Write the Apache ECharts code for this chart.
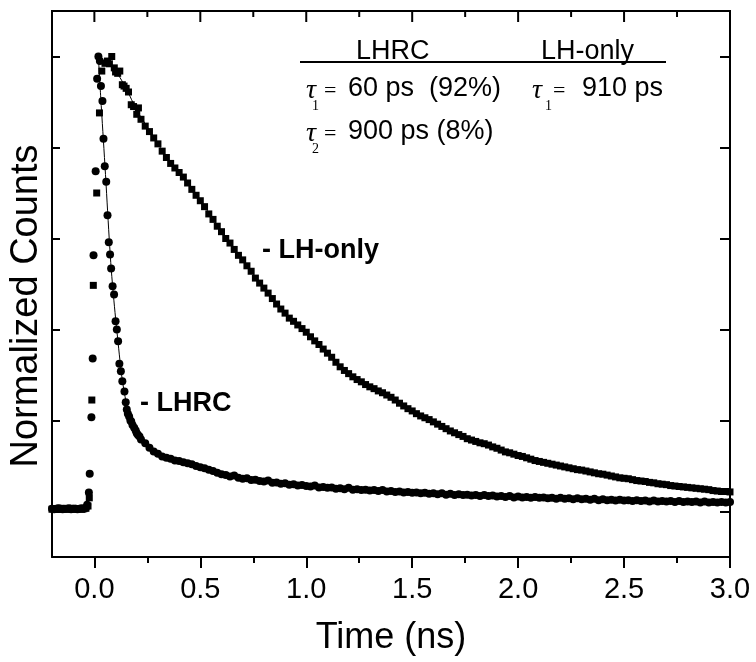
<!DOCTYPE html>
<html><head><meta charset="utf-8">
<script src="https://cdn.jsdelivr.net/npm/echarts@6/dist/echarts.min.js"></script>
<style>html,body{margin:0;padding:0;background:#fff}#c{width:756px;height:662px}</style>
</head><body><div id="c"></div>
<script>
// ---- axis ticks ----
const xTickValues = [0, 0.5, 1.0, 1.5, 2.0, 2.5, 3.0];
const xTickLabels = ['0.0', '0.5', '1.0', '1.5', '2.0', '2.5', '3.0'];
const xMinorValues = [0.25, 0.75, 1.25, 1.75, 2.25, 2.75];
const yTickValues = [0, 0.2, 0.4, 0.6, 0.8, 1.0];

// ---- LHRC (circles): baseline, rise and fast decay ----
const lhrcEarlyT = [-0.20,-0.19,-0.18,-0.17,-0.16,-0.15,-0.14,-0.13,-0.12,-0.11,-0.10,-0.09,-0.08,-0.07,-0.06,-0.05,-0.04,
  -0.034,-0.026,-0.022,-0.014,-0.008,-0.004,0.006,0.013,0.019,0.026,
  0.031,0.038,0.043,0.049,0.056,0.062,0.068,0.074,0.079,0.086,
  0.093,0.100,0.106,0.112,0.118,0.125,0.132,0.142,0.148,0.153,
  0.158,0.164,0.170,0.174,0.180,0.188,0.195,0.200,0.206,0.213,0.220];
const lhrcEarlyV = [0.006,0.005,0.006,0.007,0.006,0.005,0.006,0.006,0.007,0.005,0.006,0.006,0.005,0.006,0.007,0.006,0.008,
  0.015,0.042,0.083,0.207,0.336,0.563,0.748,0.951,1.000,0.990,
  0.935,0.902,0.819,0.759,0.725,0.651,0.592,0.565,0.534,0.495,
  0.477,0.418,0.400,0.374,0.325,0.308,0.286,0.264,0.240,0.224,
  0.215,0.209,0.200,0.198,0.190,0.184,0.178,0.172,0.168,0.165,0.158];

// ---- LH-only (squares): baseline, rise and peak ----
const lhonlyEarlyT = [-0.20,-0.19,-0.18,-0.17,-0.16,-0.15,-0.14,-0.13,-0.12,-0.11,-0.10,-0.09,-0.08,-0.07,-0.06,-0.05,-0.04,
  -0.030,-0.024,-0.012,-0.005,0.011,0.024,0.035,0.050,0.062,
  0.071,0.082,0.094,0.100,0.110,0.120,0.132,0.140,0.150,0.161,
  0.174,0.185,0.200,0.208,0.220];
const lhonlyEarlyV = [0.005,0.006,0.006,0.005,0.007,0.006,0.006,0.005,0.006,0.006,0.007,0.005,0.006,0.006,0.005,0.006,0.007,
  0.012,0.030,0.245,0.497,0.700,0.876,0.968,0.985,0.990,
  0.984,1.000,0.975,0.966,0.963,0.968,0.938,0.935,0.930,0.922,
  0.894,0.890,0.873,0.887,0.862];

// ---- shared time channels for the tails (ns) ----
const tGrid = [0.24,0.26,0.28,0.30,0.32,0.34,0.36,0.38,0.40,0.42,
  0.44,0.46,0.48,0.50,0.52,0.54,0.56,0.58,0.60,0.62,
  0.64,0.66,0.68,0.70,0.72,0.74,0.76,0.78,0.80,0.82,
  0.84,0.86,0.88,0.90,0.92,0.94,0.96,0.98,1.00,1.02,
  1.04,1.06,1.08,1.10,1.12,1.14,1.16,1.18,1.20,1.22,
  1.24,1.26,1.28,1.30,1.32,1.34,1.36,1.38,1.40,1.42,
  1.44,1.46,1.48,1.50,1.52,1.54,1.56,1.58,1.60,1.62,
  1.64,1.66,1.68,1.70,1.72,1.74,1.76,1.78,1.80,1.82,
  1.84,1.86,1.88,1.90,1.92,1.94,1.96,1.98,2.00,2.02,
  2.04,2.06,2.08,2.10,2.12,2.14,2.16,2.18,2.20,2.22,
  2.24,2.26,2.28,2.30,2.32,2.34,2.36,2.38,2.40,2.42,
  2.44,2.46,2.48,2.50,2.52,2.54,2.56,2.58,2.60,2.62,
  2.64,2.66,2.68,2.70,2.72,2.74,2.76,2.78,2.80,2.82,
  2.84,2.86,2.88,2.90,2.92,2.94,2.96,2.98,3.00];
const lhonlyTailV = [0.847,0.835,0.821,0.808,0.792,0.778,0.765,0.755,0.745,0.735,
  0.722,0.708,0.695,0.683,0.670,0.654,0.642,0.627,0.615,0.600,
  0.590,0.576,0.563,0.553,0.540,0.528,0.513,0.502,0.491,0.480,
  0.468,0.456,0.445,0.436,0.425,0.418,0.410,0.402,0.394,0.384,
  0.375,0.367,0.357,0.348,0.339,0.328,0.318,0.310,0.303,0.296,
  0.290,0.285,0.279,0.274,0.270,0.265,0.261,0.256,0.251,0.245,
  0.238,0.232,0.226,0.221,0.215,0.210,0.206,0.202,0.197,0.192,
  0.187,0.182,0.177,0.173,0.169,0.165,0.160,0.157,0.154,0.151,
  0.149,0.146,0.142,0.139,0.135,0.131,0.129,0.126,0.123,0.121,
  0.118,0.115,0.112,0.110,0.108,0.106,0.104,0.102,0.100,0.098,
  0.096,0.094,0.092,0.091,0.089,0.087,0.085,0.083,0.082,0.080,
  0.078,0.076,0.074,0.073,0.072,0.070,0.068,0.067,0.066,0.064,
  0.063,0.061,0.060,0.059,0.057,0.056,0.055,0.054,0.053,0.052,
  0.051,0.050,0.049,0.048,0.046,0.045,0.044,0.044,0.043];
const lhrcTailV = [0.150,0.140,0.132,0.127,0.121,0.118,0.116,0.112,0.111,0.108,
  0.106,0.104,0.100,0.097,0.095,0.092,0.089,0.085,0.082,0.080,
  0.077,0.079,0.074,0.072,0.073,0.069,0.070,0.067,0.066,0.068,
  0.063,0.064,0.061,0.062,0.059,0.060,0.057,0.058,0.056,0.055,
  0.057,0.053,0.054,0.052,0.053,0.050,0.051,0.049,0.052,0.048,
  0.049,0.047,0.048,0.046,0.047,0.045,0.047,0.044,0.045,0.043,
  0.044,0.042,0.043,0.041,0.042,0.040,0.041,0.039,0.040,0.038,
  0.040,0.037,0.039,0.036,0.038,0.036,0.037,0.035,0.036,0.034,
  0.036,0.034,0.035,0.033,0.034,0.032,0.034,0.031,0.033,0.031,
  0.032,0.030,0.032,0.030,0.031,0.029,0.030,0.028,0.030,0.028,
  0.029,0.027,0.029,0.027,0.028,0.026,0.028,0.025,0.027,0.025,
  0.026,0.024,0.026,0.024,0.025,0.023,0.025,0.023,0.024,0.022,
  0.024,0.022,0.023,0.022,0.023,0.021,0.023,0.021,0.022,0.021,
  0.022,0.020,0.022,0.020,0.021,0.020,0.021,0.020,0.021];

// ---- fitted curves ----
const lhrcFitT = [0.02,0.03,0.04,0.05,0.06,0.07,0.08,0.09,0.10,0.11,0.12,0.13,0.14,0.15,0.16,0.17,0.18,0.20,0.22,0.25,0.30,0.35,0.40,0.50,0.60,0.75,0.90,1.10,1.30,1.50,1.80,2.10,2.40,2.70,3.00];
const lhrcFitV = [0.990,0.910,0.835,0.760,0.680,0.600,0.530,0.475,0.425,0.380,0.335,0.295,0.265,0.240,0.218,0.203,0.192,0.175,0.162,0.146,0.127,0.117,0.109,0.096,0.083,0.070,0.062,0.053,0.047,0.042,0.036,0.031,0.027,0.023,0.021];
const lhonlyFitT = [0.10,0.15,0.20,0.25,0.30,0.35,0.40,0.45,0.50,0.55,0.60,0.65,0.70,0.75,0.80,0.85,0.90,0.95,1.00,1.05,1.10,1.15,1.20,1.25,1.30,1.40,1.50,1.60,1.70,1.80,1.90,2.00,2.10,2.20,2.30,2.40,2.50,2.60,2.70,2.80,2.90,3.00];
const lhonlyFitV = [0.970,0.930,0.882,0.845,0.808,0.772,0.742,0.715,0.683,0.650,0.616,0.584,0.554,0.522,0.492,0.463,0.436,0.414,0.394,0.372,0.348,0.323,0.303,0.288,0.275,0.252,0.223,0.197,0.174,0.155,0.139,0.124,0.111,0.100,0.091,0.082,0.074,0.066,0.059,0.053,0.048,0.043];

function zip(t, v) { return t.map((x, i) => [x, v[i]]); }
const lhrcData = zip(lhrcEarlyT, lhrcEarlyV).concat(zip(tGrid, lhrcTailV));
const lhonlyData = zip(lhonlyEarlyT, lhonlyEarlyV).concat(zip(tGrid, lhonlyTailV));

const SANS = '"Liberation Sans", Arial, sans-serif';
const SERIF = '"Liberation Serif", "Times New Roman", serif';
const axisLine = { show: true, onZero: false, lineStyle: { color: '#000', width: 2 } };
const noLine = { show: false, onZero: false };
const X = { type: 'value', min: -0.2, max: 3.0, splitLine: { show: false } };
const Y = { type: 'value', min: -0.1, max: 1.1, splitLine: { show: false } };

const chart = echarts.init(document.getElementById('c'), null, { renderer: 'canvas' });
const txt = (x, y, text, size, family, extra) => ({
  type: 'text', x: x, y: y, silent: true,
  style: Object.assign({ text: text, fontSize: size, fontFamily: family, fill: '#000', align: 'left', verticalAlign: 'middle' }, extra || {})
});
const tick = (values, len) => ({ show: true, inside: false, length: len, customValues: values, lineStyle: { color: '#000', width: 2 } });

// top frame with its inward ticks, drawn as one custom-series item through the x / y scales
const topFrameData = [[X.min, Y.max]];
function renderTopFrame(params, api) {
  const a = api.coord([X.min, Y.max]);
  const b = api.coord([X.max, Y.max]);
  const kids = [{ type: 'rect', shape: { x: a[0] - 1, y: a[1] - 1, width: b[0] - a[0] + 2, height: 2 }, style: { fill: '#000' } }];
  xTickValues.forEach(v => {
    const p = api.coord([v, Y.max]);
    kids.push({ type: 'rect', shape: { x: p[0] - 1, y: p[1], width: 2, height: 11 }, style: { fill: '#000' } });
  });
  xMinorValues.forEach(v => {
    const p = api.coord([v, Y.max]);
    kids.push({ type: 'rect', shape: { x: p[0] - 1, y: p[1], width: 2, height: 6 }, style: { fill: '#000' } });
  });
  return { type: 'group', children: kids };
}

chart.setOption({
  animation: false,
  backgroundColor: '#fff',
  grid: { left: 52, right: 26, top: 11, bottom: 105 },
  xAxis: [
    Object.assign({}, X, {
      position: 'bottom', axisLine: axisLine,
      axisTick: tick(xTickValues, 11),
      axisLabel: { show: true, customValues: xTickValues, margin: 18, color: '#000', fontSize: 29, fontFamily: SANS,
        formatter: v => xTickLabels[xTickValues.indexOf(v)] },
      name: 'Time (ns)', nameLocation: 'middle', nameGap: 63,
      nameTextStyle: { color: '#000', fontSize: 36, fontFamily: SANS }
    }),
    Object.assign({}, X, {
      position: 'bottom', axisLine: noLine,
      axisTick: tick(xMinorValues, 6), axisLabel: { show: false }
    })
  ],
  yAxis: [
    Object.assign({}, Y, {
      position: 'left', axisLine: axisLine,
      axisTick: { show: true, inside: true, length: 8, customValues: yTickValues, lineStyle: { color: '#000', width: 2 } },
      axisLabel: { show: false },
      name: 'Normalized Counts', nameLocation: 'middle', nameGap: 6,
      nameTextStyle: { color: '#000', fontSize: 38, fontFamily: SANS, padding: [0, 44, 0, 0] }
    }),
    Object.assign({}, Y, {
      position: 'right', axisLine: axisLine,
      axisTick: { show: true, inside: true, length: 10, customValues: yTickValues, lineStyle: { color: '#000', width: 2 } },
      axisLabel: { show: false }
    })
  ],
  series: [
    { name: 'LH-only', type: 'scatter', symbol: 'rect', symbolSize: 7, data: lhonlyData,
      itemStyle: { color: '#000', opacity: 1 }, silent: true, z: 2 },
    { name: 'LHRC', type: 'scatter', symbol: 'circle', symbolSize: 8, data: lhrcData,
      itemStyle: { color: '#000', opacity: 1 }, silent: true, z: 2 },
    { name: 'LHRC fit', type: 'line', data: zip(lhrcFitT, lhrcFitV), showSymbol: false, smooth: 0.3,
      lineStyle: { color: '#000', width: 1 }, silent: true, z: 3 },
    { name: 'LH-only fit', type: 'line', data: zip(lhonlyFitT, lhonlyFitV), showSymbol: false, smooth: 0.3,
      lineStyle: { color: '#000', width: 1 }, silent: true, z: 3 },
    { name: 'top frame', type: 'custom', clip: false, z: 20, data: topFrameData, renderItem: renderTopFrame }
  ]
});

chart.setOption({
  graphic: [
    txt(356, 52, 'LHRC', 27, SANS),
    txt(541, 52, 'LH-only', 27, SANS),
    { type: 'line', silent: true, shape: { x1: 300, y1: 62, x2: 666, y2: 62 }, style: { stroke: '#000', lineWidth: 2 } },
    txt(306, 91, 'τ', 28, SERIF, { fontStyle: 'italic' }),
    txt(312, 106, '1', 14, SERIF),
    txt(324, 91, '=', 22, SERIF),
    txt(348, 88.5, '60 ps  (92%)', 27, SANS),
    txt(532, 91, 'τ', 28, SERIF, { fontStyle: 'italic' }),
    txt(545, 106, '1', 14, SERIF),
    txt(553, 91, '=', 22, SERIF),
    txt(582, 88.5, '910 ps', 27, SANS),
    txt(306, 134, 'τ', 28, SERIF, { fontStyle: 'italic' }),
    txt(312, 149, '2', 14, SERIF),
    txt(324, 134, '=', 22, SERIF),
    txt(348, 132, '900 ps (8%)', 27, SANS),
    txt(262, 251, '- LH-only', 27, SANS, { fontWeight: 'bold' }),
    txt(140, 404, '- LHRC', 27, SANS, { fontWeight: 'bold' })
  ]
});
</script></body></html>
